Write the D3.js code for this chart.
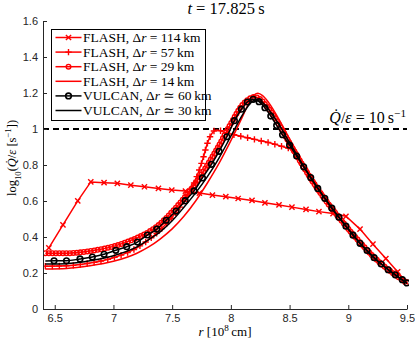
<!DOCTYPE html>
<html>
<head>
<meta charset="utf-8">
<script src="https://cdn.jsdelivr.net/npm/d3@7"></script>
<style>
body { margin: 0; background: #fff; }
svg { display: block; }
</style>
</head>
<body>
<div id="chart"></div>
<script>
// values: r in 1e8 cm, log10(Qdot/eps)
var f114r = [6.45, 6.57, 6.696, 6.807, 6.92, 7.033, 7.148, 7.264, 7.383, 7.497, 7.613, 7.732, 7.843, 7.957, 8.062, 8.18, 8.29, 8.41, 8.52, 8.64, 8.75, 8.87, 8.98, 9.1, 9.21, 9.32, 9.42, 9.49];
var f114q = [0.34, 0.467, 0.601, 0.706, 0.702, 0.698, 0.688, 0.679, 0.67, 0.661, 0.655, 0.644, 0.633, 0.624, 0.614, 0.603, 0.59, 0.578, 0.566, 0.553, 0.541, 0.53, 0.515, 0.444, 0.36, 0.28, 0.207, 0.15];

var f57r = [6.42, 6.6, 6.8, 7.0, 7.2, 7.3, 7.4, 7.5, 7.6, 7.7, 7.76, 7.8, 7.85, 7.88, 7.95, 8.05, 8.15, 8.25, 8.35, 8.45, 8.52, 8.6, 8.7, 8.8, 8.9, 9.0, 9.1, 9.2, 9.3, 9.4, 9.5];
var f57q = [0.238, 0.24, 0.255, 0.285, 0.34, 0.385, 0.44, 0.51, 0.6, 0.72, 0.83, 0.92, 0.985, 0.995, 0.98, 0.965, 0.95, 0.935, 0.92, 0.9, 0.885, 0.81, 0.705, 0.612, 0.527, 0.445, 0.368, 0.3, 0.24, 0.19, 0.145];

var f29r = [6.42, 6.6, 6.8, 7.0, 7.2, 7.3, 7.4, 7.5, 7.6, 7.7, 7.8, 7.9, 8.0, 8.1, 8.15, 8.2, 8.25, 8.3, 8.4, 8.5, 8.6, 8.7, 8.8, 8.9, 9.0, 9.1, 9.2, 9.3, 9.4, 9.5];
var f29q = [0.31, 0.31, 0.322, 0.348, 0.395, 0.428, 0.475, 0.54, 0.615, 0.7, 0.8, 0.91, 1.03, 1.135, 1.165, 1.178, 1.165, 1.13, 1.035, 0.92, 0.81, 0.705, 0.61, 0.525, 0.445, 0.37, 0.3, 0.24, 0.19, 0.145];

var f14r = [6.42, 6.6, 6.8, 7.0, 7.2, 7.3, 7.4, 7.5, 7.6, 7.7, 7.8, 7.9, 8.0, 8.1, 8.15, 8.2, 8.23, 8.27, 8.3, 8.4, 8.5, 8.6, 8.7, 8.8, 8.9, 9.0, 9.1, 9.2, 9.3, 9.4, 9.5];
var f14q = [0.222, 0.225, 0.24, 0.265, 0.31, 0.345, 0.39, 0.445, 0.515, 0.6, 0.7, 0.81, 0.935, 1.07, 1.14, 1.19, 1.198, 1.185, 1.165, 1.065, 0.945, 0.83, 0.72, 0.62, 0.53, 0.45, 0.37, 0.3, 0.24, 0.19, 0.14];

var v60r = [6.42, 6.494, 6.6, 6.715, 6.82, 6.92, 7.02, 7.113, 7.204, 7.289, 7.369, 7.449, 7.534, 7.611, 7.687, 7.758, 7.835, 7.9, 7.966, 8.03, 8.09, 8.14, 8.19, 8.24, 8.29, 8.34, 8.39, 8.44, 8.5, 8.56, 8.62, 8.68, 8.74, 8.8, 8.86, 8.92, 8.98, 9.04, 9.1, 9.16, 9.22, 9.28, 9.34, 9.4, 9.46, 9.5];
var v60q = [0.267, 0.268, 0.268, 0.278, 0.289, 0.304, 0.326, 0.346, 0.372, 0.411, 0.444, 0.493, 0.544, 0.602, 0.656, 0.728, 0.804, 0.876, 0.957, 1.046, 1.11, 1.15, 1.165, 1.152, 1.118, 1.072, 1.02, 0.968, 0.91, 0.85, 0.79, 0.73, 0.67, 0.615, 0.56, 0.51, 0.46, 0.41, 0.365, 0.325, 0.285, 0.25, 0.218, 0.19, 0.163, 0.145];

var v30r = [6.42, 6.6, 6.8, 7.0, 7.2, 7.3, 7.4, 7.5, 7.6, 7.7, 7.8, 7.9, 8.0, 8.1, 8.15, 8.2, 8.25, 8.3, 8.4, 8.5, 8.6, 8.7, 8.8, 8.9, 9.0, 9.1, 9.2, 9.3, 9.4, 9.5];
var v30q = [0.25, 0.252, 0.268, 0.296, 0.345, 0.385, 0.43, 0.49, 0.565, 0.645, 0.735, 0.84, 0.96, 1.08, 1.13, 1.158, 1.155, 1.125, 1.035, 0.925, 0.815, 0.71, 0.615, 0.525, 0.445, 0.365, 0.295, 0.24, 0.19, 0.142];

var xTicks = [6.5, 7, 7.5, 8, 8.5, 9, 9.5];
var yTicks = [0, 0.2, 0.4, 0.6, 0.8, 1, 1.2, 1.4, 1.6];
var legendKm = ["114", "57", "29", "14", "60", "30"];
var legendCode = ["FLASH", "FLASH", "FLASH", "FLASH", "VULCAN", "VULCAN"];
var legendRel = ["=", "=", "=", "=", "\u2243", "\u2243"];
var refLevel = 1;

var width = 415, height = 341;
var axisCol = "#262626";
var serif = "'Liberation Serif', 'DejaVu Serif', serif";

var xScale = d3.scaleLinear().domain([6.4, 9.5]).range([43, 407]);
var yScale = d3.scaleLinear().domain([0, 1.6]).range([309, 21]);

var svg = d3.select("#chart").append("svg")
    .attr("width", width)
    .attr("height", height);

function zip(rs, qs) { return rs.map(function(r, i) { return {r: r, q: qs[i]}; }); }

var series = [
    {data: zip(f114r, f114q), color: "#ff0000", mark: "x", curve: d3.curveLinear},
    {data: zip(f57r, f57q), color: "#ff0000", mark: "+", curve: d3.curveMonotoneX, step: 7},
    {data: zip(f29r, f29q), color: "#ff0000", mark: "o", curve: d3.curveMonotoneX, step: 3.5},
    {data: zip(f14r, f14q), color: "#ff0000", mark: null, curve: d3.curveMonotoneX},
    {data: zip(v60r, v60q), color: "#000000", mark: "O", curve: d3.curveMonotoneX},
    {data: zip(v30r, v30q), color: "#000000", mark: null, curve: d3.curveMonotoneX}
];

function markPath(m) {
    if (m == "x") return "M-2.6,-2.6L2.6,2.6M-2.6,2.6L2.6,-2.6";
    if (m == "+") return "M-3.2,0H3.2M0,-3.2V3.2";
    return null;
}

function drawMark(g, m, x, y, color) {
    if (m == "o" || m == "O") {
        g.append("circle")
            .attr("cx", x).attr("cy", y)
            .attr("r", m == "O" ? 2.8 : 2.3)
            .attr("fill", "none")
            .attr("stroke", color)
            .attr("stroke-width", m == "O" ? 1.6 : 1.4);
    } else {
        g.append("path")
            .attr("d", markPath(m))
            .attr("transform", "translate(" + x + "," + y + ")")
            .attr("fill", "none")
            .attr("stroke", color)
            .attr("stroke-width", 1.4);
    }
}

svg.append("clipPath").attr("id", "plotClip")
    .append("rect").attr("x", 43).attr("y", 21).attr("width", 366).attr("height", 290);

// reference level Qdot/eps = 10 1/s
svg.append("line")
    .attr("x1", xScale(6.4)).attr("x2", xScale(9.5))
    .attr("y1", yScale(refLevel)).attr("y2", yScale(refLevel))
    .attr("stroke", "#000")
    .attr("stroke-width", 1.8)
    .attr("stroke-dasharray", "6,4");

var plot = svg.append("g").attr("clip-path", "url(#plotClip)");

series.forEach(function(s) {
    var line = d3.line()
        .x(d => xScale(d.r))
        .y(d => yScale(d.q))
        .curve(s.curve);
    var p = plot.append("path")
        .datum(s.data)
        .attr("d", line)
        .attr("fill", "none")
        .attr("stroke", s.color)
        .attr("stroke-width", 1.5);
    if (!s.mark) return;
    var mg = plot.append("g");
    if (s.step) {
        // dense markers, one per grid cell along the drawn line
        var node = p.node(), len = node.getTotalLength();
        for (var l = 0; l <= len; l += s.step) {
            var pt = node.getPointAtLength(l);
            drawMark(mg, s.mark, pt.x, pt.y, s.color);
        }
    } else {
        s.data.forEach(function(d, i) {
            if (s.mark == "O" && i == 0) return;
            drawMark(mg, s.mark, xScale(d.r), yScale(d.q), s.color);
        });
    }
});

// axes
var xAxis = d3.axisBottom(xScale).tickValues(xTicks).tickSizeInner(-4).tickSizeOuter(0).tickPadding(5).tickFormat(d3.format(""));
var yAxis = d3.axisLeft(yScale).tickValues(yTicks).tickSizeInner(-4).tickSizeOuter(0).tickPadding(5).tickFormat(d3.format(""));

var gx = svg.append("g")
    .attr("transform", "translate(0," + yScale(0) + ")")
    .call(xAxis);
var gy = svg.append("g")
    .attr("transform", "translate(" + xScale(6.4) + ",0)")
    .call(yAxis);

[gx, gy].forEach(function(g) {
    g.select(".domain").attr("stroke", axisCol).attr("stroke-width", 1);
    g.selectAll(".tick line").attr("stroke", axisCol);
    g.selectAll(".tick text")
        .attr("fill", axisCol)
        .style("font-family", "'Liberation Sans', Arial, sans-serif")
        .style("font-size", "11px");
});

function addPieces(t, pieces) {
    pieces.forEach(function(p) {
        var ts = t.append("tspan").text(p.t);
        if (p.i) ts.attr("font-style", "italic");
        if (p.sup) ts.attr("baseline-shift", "super").attr("font-size", "70%");
        if (p.sub) ts.attr("baseline-shift", "sub").attr("font-size", "70%");
    });
}

// title
var title = svg.append("text")
    .attr("x", 226).attr("y", 14)
    .attr("text-anchor", "middle")
    .style("font-family", serif)
    .style("font-size", "16.5px");
addPieces(title, [{t: "t", i: true}, {t: " = 17.825\u2009s"}]);

// x label
var xl = svg.append("text")
    .attr("x", 225).attr("y", 336)
    .attr("text-anchor", "middle")
    .style("font-family", serif)
    .style("font-size", "13px");
addPieces(xl, [{t: "r", i: true}, {t: " [10"}, {t: "8", sup: true}, {t: "\u2009cm]"}]);

// y label
var yl = svg.append("text")
    .attr("transform", "translate(16,158) rotate(-90)")
    .attr("text-anchor", "middle")
    .style("font-family", serif)
    .style("font-size", "12.5px");
addPieces(yl, [{t: "log"}, {t: "10", sub: true}, {t: "("}, {t: "Q\u0307", i: true}, {t: "/"}, {t: "\u03b5", i: true}, {t: " [s"}, {t: "\u22121", sup: true}, {t: "])"}]);

// annotation on the dashed line
var ann = svg.append("text")
    .attr("x", 406).attr("y", 123)
    .attr("text-anchor", "end")
    .style("font-family", serif)
    .style("font-size", "16px");
addPieces(ann, [{t: "Q\u0307", i: true}, {t: "/"}, {t: "\u03b5", i: true}, {t: " = 10\u2009s"}, {t: "\u22121", sup: true}]);

// legend
var lg = svg.append("g");
lg.append("rect")
    .attr("x", 51.5).attr("y", 29.5)
    .attr("width", 154).attr("height", 91)
    .attr("fill", "#fff")
    .attr("stroke", "#000")
    .attr("stroke-width", 1);

series.forEach(function(s, i) {
    var y = 37.5 + i * 14.6;
    lg.append("line")
        .attr("x1", 55.5).attr("x2", 81.5)
        .attr("y1", y).attr("y2", y)
        .attr("stroke", s.color)
        .attr("stroke-width", 1.5);
    if (s.mark) drawMark(lg, s.mark, 68.5, y, s.color);
    var t = lg.append("text")
        .attr("x", 83).attr("y", y + 4.5)
        .style("font-family", serif)
        .style("font-size", "13.5px");
    addPieces(t, [{t: legendCode[i] + ", \u0394"}, {t: "r", i: true}, {t: " " + legendRel[i] + " " + legendKm[i] + "\u2009km"}]);
});
</script>
</body>
</html>
